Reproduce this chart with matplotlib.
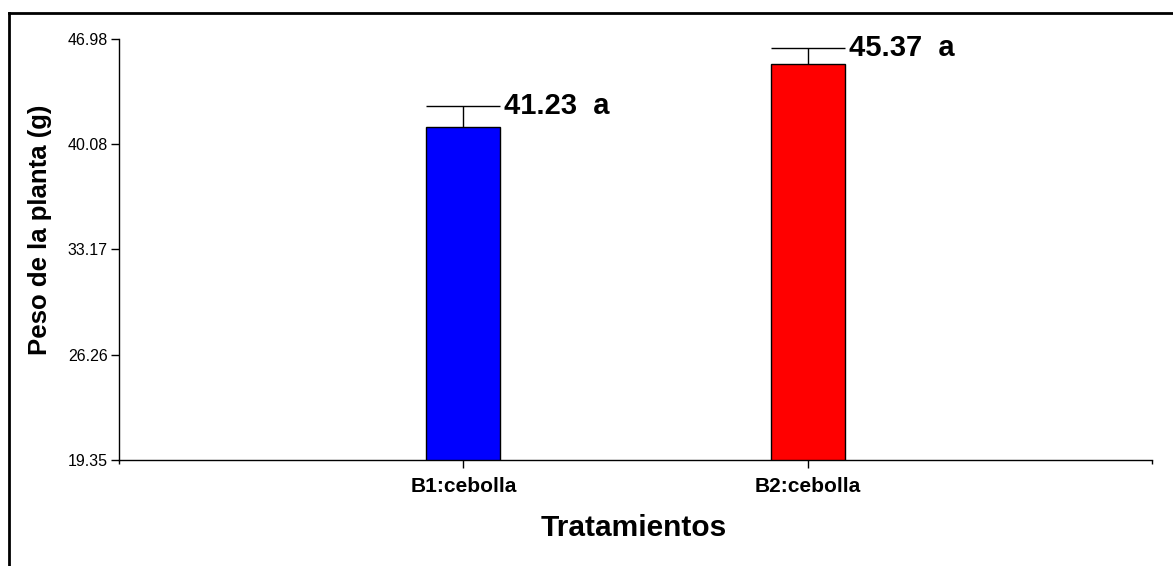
"""Peso de la planta por tratamiento (barras con error estándar)."""
import matplotlib.pyplot as plt
from matplotlib.lines import Line2D

TRATAMIENTOS = ["B1:cebolla", "B2:cebolla"]
PESO_MEDIO = [41.23, 45.37]
ERROR_EST = [1.35, 1.05]
LETRAS = ["a", "a"]
COLORES = ["#0000FF", "#FF0000"]
Y_TICKS = [19.35, 26.26, 33.17, 40.08, 46.98]

plt.rcParams["font.family"] = ["Liberation Sans", "DejaVu Sans"]

fig = plt.figure(figsize=(11.73, 5.66), dpi=100)
ax = fig.add_axes([119 / 1173, 1 - 460 / 566, (1152 - 119) / 1173, (460 - 39) / 566])

xs = [1, 2]
w = 0.215
ax.bar(xs, PESO_MEDIO, width=w, color=COLORES, edgecolor="black", linewidth=1.0,
       zorder=2)
for x, m, e, let in zip(xs, PESO_MEDIO, ERROR_EST, LETRAS):
    top = m + e
    ax.vlines(x, m, top, color="black", lw=1.0, zorder=1)
    ax.hlines(top, x - w / 2, x + w / 2, color="black", lw=1.0, zorder=3)
    ax.text(x + w / 2 + 0.012, top, f"{m:.2f}  {let}", ha="left", va="center",
            fontsize=21, fontweight="bold")

ax.set_xlim(0, 3)
ax.set_ylim(Y_TICKS[0], Y_TICKS[-1])
ax.set_yticks(Y_TICKS)
ax.set_yticklabels([f"{t:.2f}" for t in Y_TICKS], fontsize=11.5)
ax.set_xticks(xs)
ax.set_xticklabels(TRATAMIENTOS, fontsize=15, fontweight="bold")
ax.set_xticks([0, 3], minor=True)
ax.tick_params(axis="both", which="both", direction="out", length=6, width=1.0, pad=2)
ax.tick_params(axis="x", pad=6)
ax.tick_params(axis="x", which="minor", length=3)
for s in ("top", "right"):
    ax.spines[s].set_visible(False)
for s in ("left", "bottom"):
    ax.spines[s].set_linewidth(1.0)

fig.text(634 / 1173, 1 - 528 / 566, "Tratamientos", ha="center", va="center",
         fontsize=21.5, fontweight="bold")
fig.text(40 / 1173, 1 - 230 / 566, "Peso de la planta (g)", ha="center", va="center",
         rotation=90, fontsize=18.5, fontweight="bold")

# marco exterior: solo borde superior e izquierdo
fig.add_artist(Line2D([9 / 1173, 1], [1 - 13 / 566] * 2, color="black", lw=2,
                      transform=fig.transFigure))
fig.add_artist(Line2D([9 / 1173] * 2, [0, 1 - 13 / 566], color="black", lw=2,
                      transform=fig.transFigure))

fig.savefig("out.png", dpi=100)
